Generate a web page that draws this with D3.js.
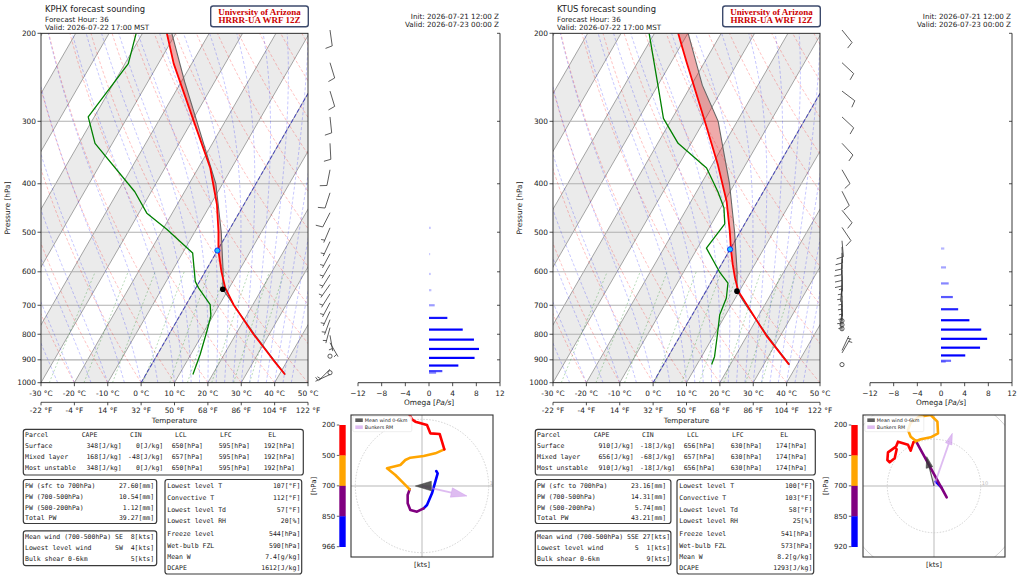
<!DOCTYPE html>
<html>
<head>
<meta charset="utf-8">
<script src="https://cdn.jsdelivr.net/npm/d3@7"></script>
<style>
body{margin:0;background:#fff}
svg{display:block}
text{font-family:"DejaVu Sans",sans-serif;fill:#222}
.mono{font-family:"DejaVu Sans Mono",monospace;white-space:pre}
</style>
</head>
<body>
<svg id="chart" width="1024" height="575"></svg>
<script>
// ---------- KPHX ----------
var phxTP = [963, 900, 800, 700, 646, 600, 544, 498, 440, 372, 298, 230, 200];
var phxT  = [41.7, 35.6, 25.3, 14.4, 8.8, 4.9, 0.3, -3.0, -8.1, -16.4, -29.8, -45.4, -52.7];
var phxTdP = [963, 878, 789, 736, 698, 646, 627, 550, 494, 458, 415, 332, 294, 230, 200];
var phxTd  = [14.1, 12.8, 10.8, 9.4, 7.2, 0.8, -1.3, -7.0, -18.7, -27.6, -34.9, -55.2, -61.8, -59.0, -61.9];
var phxParP = [963, 900, 800, 700, 650, 600, 500, 400, 300, 250, 200];
var phxParT = [41.8, 35.8, 25.6, 14.4, 8.3, 5.4, -2.0, -12.0, -28.5, -39.0, -51.2];
var phxLcl = [650, 8.3];
var phxFrz = 544;
var phxOmP = [490, 553, 606, 653, 700, 742, 783, 820, 856, 892, 924, 948, 955];
var phxOmW = [0.3, 0.2, 0.3, 0.4, 0.96, 3.1, 5.7, 7.6, 8.45, 7.7, 4.96, 2.25, 1.2];
var phxBarbP   = [197, 229, 261, 294, 332, 375, 417, 457, 490, 522, 552, 580, 608, 636, 664, 692, 720, 748, 776, 804, 832, 885, 940, 955, 963];
var phxBarbDir = [172, 163, 163, 174, 177, 191, 198, 207, 203, 205, 208, 210, 212, 215, 212, 208, 205, 200, 195, 170, 150, 0, 225, 0, 245];
var phxBarbSpd = [10, 10, 10, 10, 10, 10, 10, 10, 5, 5, 5, 5, 5, 5, 5, 5, 5, 5, 5, 5, 5, 0, 5, 0, 4];
var phxHodoU = [2.14, 2.35, 2.0, 1.5, 0.75, 0.25, -0.75, -1.75, -2.15, -2.15, -1.85, -3.0, -4.0, -5.25, -3.25, -2.5, -1.75, 0.25, 2.0, 3.35, 3.0, 2.65, 1.25, 0.75, -1.0, -1.5, -1.85, -2.3];
var phxHodoV = [2.25, 1.9, 0.65, -1.1, -2.85, -3.35, -3.85, -3.6, -2.6, -1.35, -0.5, 0.65, 1.65, 2.65, 3.15, 3.9, 4.25, 4.5, 4.9, 5.5, 6.65, 7.8, 7.9, 9.15, 9.65, 10.0, 10.65, 11.4];
var phxHodoLayer = [0,0,0,0,0,0, 1,1,1,1,1, 2,2,2,2,2,2,2,2,2, 3,3,3,3,3,3,3,3];
var phxMeanWind = [-1.0, 0.0];
var phxBunkers = [6.75, -1.5];
var phxCbLabels = ['200', '500', '700', '850', '966'];
var phxParcelRows = [
  ['Surface', '348[J/kg]', '0[J/kg]', '650[hPa]', '595[hPa]', '192[hPa]'],
  ['Mixed layer', '168[J/kg]', '-48[J/kg]', '657[hPa]', '595[hPa]', '192[hPa]'],
  ['Most unstable', '348[J/kg]', '0[J/kg]', '650[hPa]', '595[hPa]', '192[hPa]']];
var phxPwRows = [['PW (sfc to 700hPa)', '27.60[mm]'], ['PW (700-500hPa)', '10.54[mm]'], ['PW (500-200hPa)', '1.12[mm]'], ['Total PW', '39.27[mm]']];
var phxWindRows = [['Mean wind (700-500hPa)', 'SE', '8'], ['Lowest level wind', 'SW', '4'], ['Bulk shear 0-6km', '', '5']];
var phxParamRows = [['Lowest level T', '107[°F]'], ['Convective T', '112[°F]'], ['Lowest level Td', '57[°F]'], ['Lowest level RH', '20[%]'],
  ['Freeze level', '544[hPa]'], ['Wet-bulb FZL', '590[hPa]'], ['Mean W', '7.4[g/kg]'], ['DCAPE', '1612[J/kg]']];

// ---------- KTUS ----------
var tusTP = [920, 807, 731, 656, 617, 580, 539, 498, 434, 367, 300, 228, 200];
var tusT  = [37.6, 26.0, 18.2, 9.7, 6.4, 3.4, 0.1, -3.2, -9.3, -18.2, -29.7, -45.5, -52.9];
var tusTdP = [920, 887, 800, 731, 677, 632, 600, 538, 481, 447, 415, 372, 332, 296, 254, 200];
var tusTd  = [14.4, 13.9, 10.9, 8.2, 7.3, 5.2, 0.7, -7.3, -6.0, -9.0, -13.6, -21.1, -33.9, -42.6, -50.0, -61.6];
var tusParP = [920, 850, 800, 700, 656, 600, 500, 400, 300, 254, 200];
var tusParT = [37.8, 30.8, 25.6, 14.4, 9.3, 6.0, -1.6, -11.5, -25.7, -36.7, -49.9];
var tusLcl = [656, 9.3];
var tusFrz = 541;
var tusOmP = [539, 588, 633, 674, 713, 750, 783, 817, 851, 882, 904, 908];
var tusOmW = [0.56, 0.85, 1.3, 2.0, 2.9, 4.8, 6.8, 7.8, 6.6, 4.1, 1.7, 0.8];
var tusBarbP   = [197, 229, 261, 294, 332, 375, 414, 452, 489, 520, 535, 550, 565, 580, 595, 610, 625, 640, 655, 670, 685, 700, 715, 730, 752, 766, 780, 862, 872, 920];
var tusBarbDir = [141, 133, 127, 133, 137, 150, 153, 141, 146, 175, 178, 180, 182, 180, 180, 178, 182, 185, 180, 182, 178, 180, 185, 180, 0, 0, 0, 25, 30, 0];
var tusBarbSpd = [10, 10, 10, 10, 10, 10, 10, 10, 10, 10, 10, 10, 10, 10, 10, 5, 5, 5, 5, 5, 5, 5, 5, 5, 0, 0, 0, 5, 5, 0];
var tusHodoU = [0.36, 1.58, 2.72, -3.92, -4.99, -5.57, -4.99, -3.21, -0.71, 0.73, 0.86, -0.71, -2.85, -4.41, -4.99, -5.57, -7.71, -8.14, -9.85, -9.98, -9.49, -8.42, -7.99];
var tusHodoV = [0.93, -0.28, -2.42, 9.7, 10.56, 12.0, 13.56, 14.84, 15.2, 13.77, 11.28, 10.43, 10.0, 9.36, 7.56, 8.84, 9.49, 8.42, 7.21, 5.57, 5.07, 5.93, 7.86];
var tusHodoLayer = [0,0, 1,1, 2,2,2,2,2,2,2,2,2,2, 3,3,3,3,3,3,3,3,3];
var tusMeanWind = [-1.56, 6.28];
var tusBunkers = [3.93, 11.28];
var tusCbLabels = ['200', '500', '700', '850', '920'];
var tusParcelRows = [
  ['Surface', '910[J/kg]', '-18[J/kg]', '656[hPa]', '630[hPa]', '174[hPa]'],
  ['Mixed layer', '656[J/kg]', '-68[J/kg]', '657[hPa]', '630[hPa]', '174[hPa]'],
  ['Most unstable', '910[J/kg]', '-18[J/kg]', '656[hPa]', '630[hPa]', '174[hPa]']];
var tusPwRows = [['PW (sfc to 700hPa)', '23.16[mm]'], ['PW (700-500hPa)', '14.31[mm]'], ['PW (500-200hPa)', '5.74[mm]'], ['Total PW', '43.21[mm]']];
var tusWindRows = [['Mean wind (700-500hPa)', 'SSE', '27'], ['Lowest level wind', 'S', '1'], ['Bulk shear 0-6km', '', '9']];
var tusParamRows = [['Lowest level T', '100[°F]'], ['Convective T', '103[°F]'], ['Lowest level Td', '58[°F]'], ['Lowest level RH', '25[%]'],
  ['Freeze level', '541[hPa]'], ['Wet-bulb FZL', '573[hPa]'], ['Mean W', '8.2[g/kg]'], ['DCAPE', '1293[J/kg]']];

// ---------- shared ----------
var parcelHeader = ['Parcel', 'CAPE', 'CIN', 'LCL', 'LFC', 'EL'];
var pressTicks = [200, 300, 400, 500, 600, 700, 800, 900, 1000];
var tempTicks = [-30, -20, -10, 0, 10, 20, 30, 40, 50];
var omegaTicks = [-12, -8, -4, 0, 4, 8, 12];
var mixRatios = [0.0004, 0.001, 0.002, 0.004, 0.007, 0.01, 0.016, 0.024, 0.032];
var layerColors = ['#0000ff', '#800080', '#ffa500', '#ff0000'];

var svg = d3.select('#chart');

var SK = {x0: 41, x1: 308, y0: 33.3, y1: 382.7};
var xT = d3.scaleLinear().domain([-30, 50]).range([SK.x0, SK.x1]);
var yP = d3.scaleLog().domain([1000, 200]).range([SK.y1, SK.y0]);
var skew = 0.577;
function sx(T, p) { return xT(T) + skew * (SK.y1 - yP(p)); }

var xOm = d3.scaleLinear().domain([-12, 12]).range([358, 500]);

function interpP(ps, vs, p) {
	for (var i = 0; i < ps.length - 1; i++) {
		if (p <= ps[i] && p >= ps[i + 1]) {
			var f = (Math.log(ps[i]) - Math.log(p)) / (Math.log(ps[i]) - Math.log(ps[i + 1]));
			return vs[i] + f * (vs[i + 1] - vs[i]);
		}
	}
	return p > ps[0] ? vs[0] : vs[vs.length - 1];
}

// moist adiabat, pseudo-adiabatic lapse rate
function moistAdiabat(t0, plist) {
	var Rd = 287.04, Cp = 1005.7, Lv = 2.501e6, eps = 0.622;
	function dTdp(p, T) {
		var es = 6.112 * Math.exp(17.67 * (T - 273.15) / (T - 29.65));
		var rs = eps * es / (p - es);
		return (Rd * T + Lv * rs) / (Cp + (Lv * Lv * rs * eps) / (Rd * T * T)) / p;
	}
	var T = t0 + 273.15, out = [[plist[0], t0]];
	for (var i = 1; i < plist.length; i++) {
		var p = plist[i - 1], h = plist[i] - p;
		var k1 = dTdp(p, T), k2 = dTdp(p + h / 2, T + h / 2 * k1), k3 = dTdp(p + h / 2, T + h / 2 * k2), k4 = dTdp(p + h, T + h * k3);
		T = T + h / 6 * (k1 + 2 * k2 + 2 * k3 + k4);
		out.push([plist[i], T - 273.15]);
	}
	return out;
}

var profLine = d3.line().x(function (d) { return sx(d[1], d[0]); }).y(function (d) { return yP(d[0]); });

function drawSkew(ox, d) {
	var g = svg.append('g').attr('transform', 'translate(' + ox + ',0)');
	var cid = 'clipSkew' + ox;
	g.append('clipPath').attr('id', cid).append('rect')
		.attr('x', SK.x0).attr('y', SK.y0).attr('width', SK.x1 - SK.x0).attr('height', SK.y1 - SK.y0);
	var pg = g.append('g').attr('clip-path', 'url(#' + cid + ')');

	pg.selectAll('.band').data(d3.range(-100, 50, 20)).enter()
		.append('path')
		.attr('class', 'band')
		.attr('d', function (T) {
			return 'M' + sx(T, 1000) + ',' + SK.y1 + 'L' + sx(T, 200) + ',' + SK.y0 +
				'L' + sx(T + 10, 200) + ',' + SK.y0 + 'L' + sx(T + 10, 1000) + ',' + SK.y1 + 'Z';
		})
		.attr('fill', '#ebebeb');

	pg.selectAll('.iso').data(d3.range(-100, 60, 10)).enter()
		.append('line')
		.attr('class', 'iso')
		.attr('x1', function (T) { return sx(T, 1000); }).attr('y1', SK.y1)
		.attr('x2', function (T) { return sx(T, 200); }).attr('y2', SK.y0)
		.attr('stroke', '#9a9a9a').attr('stroke-width', 0.9);

	pg.selectAll('.pgrid').data(pressTicks).enter()
		.append('line')
		.attr('class', 'pgrid')
		.attr('x1', SK.x0).attr('x2', SK.x1)
		.attr('y1', function (p) { return yP(p); }).attr('y2', function (p) { return yP(p); })
		.attr('stroke', '#b0b0b0').attr('stroke-width', 1.1);

	var pl = d3.range(1000, 195, -5);
	pg.selectAll('.dry').data(d3.range(-30, 160, 10)).enter()
		.append('path')
		.attr('class', 'dry')
		.attr('d', function (th) {
			return profLine(pl.map(function (p) { return [p, (th + 273.15) * Math.pow(p / 1000, 0.2857) - 273.15]; }));
		})
		.attr('fill', 'none').attr('stroke', '#ff0000').attr('stroke-opacity', 0.3)
		.attr('stroke-width', 0.8).attr('stroke-dasharray', '3,2');

	var moistT0 = d3.range(-50, 10.1, 5).concat(d3.range(12.5, 45.1, 2.5));
	pg.selectAll('.moist').data(moistT0).enter()
		.append('path')
		.attr('class', 'moist')
		.attr('d', function (t0) { return profLine(moistAdiabat(t0, pl)); })
		.attr('fill', 'none').attr('stroke', '#0000ff').attr('stroke-opacity', 0.28)
		.attr('stroke-width', 0.8).attr('stroke-dasharray', '3,2');

	var pm = d3.range(1000, 595, -10);
	pg.selectAll('.mix').data(mixRatios).enter()
		.append('path')
		.attr('class', 'mix')
		.attr('d', function (w) {
			return profLine(pm.map(function (p) {
				var e = p * w / (0.622 + w), l = Math.log(e / 6.112);
				return [p, 243.5 * l / (17.67 - l)];
			}));
		})
		.attr('fill', 'none').attr('stroke', '#008000').attr('stroke-opacity', 0.35)
		.attr('stroke-width', 0.8).attr('stroke-dasharray', '2,2');

	pg.append('line')
		.attr('x1', sx(0, 1000)).attr('y1', SK.y1).attr('x2', sx(0, 200)).attr('y2', SK.y0)
		.attr('stroke', '#3030c0').attr('stroke-opacity', 0.75).attr('stroke-width', 1.1).attr('stroke-dasharray', '4,2');

	// CAPE / CIN shading between parcel and environment
	var grid = d3.range(d.parP[0], 199, -2).map(function (p) {
		return [p, interpP(d.tP, d.t, p), interpP(d.parP, d.parT, p)];
	});
	pg.append('path')
		.attr('d', d3.area()
			.y(function (r) { return yP(r[0]); })
			.x0(function (r) { return sx(r[1], r[0]); })
			.x1(function (r) { return sx(Math.max(r[1], r[2]), r[0]); })(grid))
		.attr('fill', '#d62020').attr('fill-opacity', 0.38);
	pg.append('path')
		.attr('d', d3.area()
			.y(function (r) { return yP(r[0]); })
			.x0(function (r) { return sx(Math.min(r[1], r[2]), r[0]); })
			.x1(function (r) { return sx(r[1], r[0]); })(grid))
		.attr('fill', '#6080c0').attr('fill-opacity', 0.35);

	pg.append('path')
		.attr('d', profLine(d.parP.map(function (p, i) { return [p, d.parT[i]]; })))
		.attr('fill', 'none').attr('stroke', '#666').attr('stroke-width', 1.1);
	pg.append('path')
		.attr('d', profLine(d.tP.map(function (p, i) { return [p, d.t[i]]; })))
		.attr('fill', 'none').attr('stroke', '#ff0000').attr('stroke-width', 1.8).attr('stroke-linejoin', 'round');
	pg.append('path')
		.attr('d', profLine(d.tdP.map(function (p, i) { return [p, d.td[i]]; })))
		.attr('fill', 'none').attr('stroke', '#008000').attr('stroke-width', 1.3).attr('stroke-linejoin', 'round');

	g.append('circle').attr('cx', sx(d.lcl[1], d.lcl[0])).attr('cy', yP(d.lcl[0])).attr('r', 2.8).attr('fill', '#000');
	g.append('circle').attr('cx', sx(0, d.frz)).attr('cy', yP(d.frz)).attr('r', 2.6)
		.attr('fill', '#20c8ff').attr('stroke', '#1030ff').attr('stroke-width', 1);

	g.append('rect').attr('x', SK.x0).attr('y', SK.y0).attr('width', SK.x1 - SK.x0).attr('height', SK.y1 - SK.y0)
		.attr('fill', 'none').attr('stroke', '#222').attr('stroke-width', 0.9);

	// pressure axis
	g.selectAll('.pt').data(pressTicks).enter()
		.append('line').attr('class', 'pt')
		.attr('x1', SK.x0 - 3.5).attr('x2', SK.x0)
		.attr('y1', function (p) { return yP(p); }).attr('y2', function (p) { return yP(p); })
		.attr('stroke', '#222').attr('stroke-width', 0.8);
	g.selectAll('.ptl').data(pressTicks).enter()
		.append('text').attr('class', 'ptl')
		.attr('x', SK.x0 - 5).attr('y', function (p) { return yP(p); })
		.attr('dy', '0.35em').attr('text-anchor', 'end').attr('font-size', '7.4px')
		.text(function (p) { return p; });
	g.append('text')
		.attr('transform', 'translate(9.5,' + ((SK.y0 + SK.y1) / 2) + ') rotate(-90)')
		.attr('text-anchor', 'middle').attr('font-size', '7.4px').text('Pressure [hPa]');

	// temperature axes (°C and °F)
	var fy = 402.3;
	g.selectAll('.tt').data(tempTicks).enter()
		.append('line').attr('class', 'tt')
		.attr('x1', function (t) { return xT(t); }).attr('x2', function (t) { return xT(t); })
		.attr('y1', SK.y1).attr('y2', SK.y1 + 3.5)
		.attr('stroke', '#222').attr('stroke-width', 0.8);
	g.selectAll('.ttl').data(tempTicks).enter()
		.append('text').attr('class', 'ttl')
		.attr('x', function (t) { return xT(t); }).attr('y', SK.y1 + 13.2)
		.attr('text-anchor', 'middle').attr('font-size', '7.4px')
		.text(function (t) { return t + ' °C'; });
	g.append('line').attr('x1', SK.x0).attr('x2', SK.x1).attr('y1', fy).attr('y2', fy)
		.attr('stroke', '#222').attr('stroke-width', 0.8);
	g.selectAll('.ft').data(tempTicks).enter()
		.append('line').attr('class', 'ft')
		.attr('x1', function (t) { return xT(t); }).attr('x2', function (t) { return xT(t); })
		.attr('y1', fy).attr('y2', fy + 3)
		.attr('stroke', '#222').attr('stroke-width', 0.8);
	g.selectAll('.ftl').data(tempTicks).enter()
		.append('text').attr('class', 'ftl')
		.attr('x', function (t) { return xT(t); }).attr('y', fy + 10.6)
		.attr('text-anchor', 'middle').attr('font-size', '7.4px')
		.text(function (t) { return Math.round(t * 9 / 5 + 32) + ' °F'; });
	g.append('text').attr('x', (SK.x0 + SK.x1) / 2).attr('y', 423.2)
		.attr('text-anchor', 'middle').attr('font-size', '7.2px').text('Temperature');
}

function drawOmega(ox, d) {
	var g = svg.append('g').attr('transform', 'translate(' + ox + ',0)');
	g.selectAll('.om').data(d.omP).enter()
		.append('rect').attr('class', 'om')
		.attr('x', function (p, i) { return Math.min(xOm(0), xOm(d.omW[i])); })
		.attr('y', function (p) { return yP(p) - 1.1; })
		.attr('width', function (p, i) { return Math.abs(xOm(d.omW[i]) - xOm(0)); })
		.attr('height', 2.2)
		.attr('fill', '#0000ff')
		.attr('fill-opacity', function (p, i) { return Math.min(1, 0.15 + Math.abs(d.omW[i]) / 4); });
	g.append('line').attr('x1', xOm(-12)).attr('x2', xOm(12)).attr('y1', SK.y1).attr('y2', SK.y1)
		.attr('stroke', '#222').attr('stroke-width', 0.9);
	g.append('line').attr('x1', xOm(12)).attr('x2', xOm(12)).attr('y1', SK.y0).attr('y2', SK.y1)
		.attr('stroke', '#222').attr('stroke-width', 0.9);
	g.selectAll('.omt').data(omegaTicks).enter()
		.append('line').attr('class', 'omt')
		.attr('x1', function (t) { return xOm(t); }).attr('x2', function (t) { return xOm(t); })
		.attr('y1', SK.y1).attr('y2', SK.y1 + 3.5)
		.attr('stroke', '#222').attr('stroke-width', 0.8);
	g.selectAll('.omtl').data(omegaTicks).enter()
		.append('text').attr('class', 'omtl')
		.attr('x', function (t) { return xOm(t); }).attr('y', SK.y1 + 13.2)
		.attr('text-anchor', 'middle').attr('font-size', '7.4px')
		.text(function (t) { return t < 0 ? '\u2212' + (-t) : t; });
	g.selectAll('.omp').data(pressTicks.slice(0, 8)).enter()
		.append('line').attr('class', 'omp')
		.attr('x1', xOm(12) - 3).attr('x2', xOm(12))
		.attr('y1', function (p) { return yP(p); }).attr('y2', function (p) { return yP(p); })
		.attr('stroke', '#222').attr('stroke-width', 0.8);
	var lab = g.append('text').attr('x', xOm(0)).attr('y', 405).attr('text-anchor', 'middle').attr('font-size', '7.4px');
	lab.append('tspan').text('Omega [');
	lab.append('tspan').attr('font-style', 'italic').text('Pa/s');
	lab.append('tspan').text(']');
}

function drawBarbs(ox, d) {
	var g = svg.append('g').attr('transform', 'translate(' + ox + ',0)');
	var x = 330, L = 16, full = 7, half = 3.6, sp = 2.6;
	d.barbP.forEach(function (p, i) {
		var y = yP(p), spd = d.barbSpd[i];
		if (spd < 2.5) {
			g.append('circle').attr('cx', x).attr('cy', y).attr('r', 2.1)
				.attr('fill', 'none').attr('stroke', '#333').attr('stroke-width', 0.8);
			return;
		}
		var r = d.barbDir[i] * Math.PI / 180;
		var ux = Math.sin(r), uy = -Math.cos(r), fx = Math.cos(r), fy = Math.sin(r);
		var tx = x + L * ux, ty = y + L * uy;
		var path = 'M' + x + ',' + y + 'L' + tx + ',' + ty;
		var s = Math.round(spd / 5) * 5, n10 = Math.floor(s / 10), n5 = s % 10 >= 5 ? 1 : 0;
		var pos = 0;
		for (var k = 0; k < n10; k++) {
			var px = tx - pos * ux, py = ty - pos * uy;
			path += 'M' + px + ',' + py + 'L' + (px + full * fx + 1.6 * ux) + ',' + (py + full * fy + 1.6 * uy);
			pos += sp;
		}
		if (n5) {
			if (n10 === 0) pos += sp;
			var hx = tx - pos * ux, hy = ty - pos * uy;
			path += 'M' + hx + ',' + hy + 'L' + (hx + half * fx + 0.8 * ux) + ',' + (hy + half * fy + 0.8 * uy);
		}
		g.append('path').attr('d', path).attr('fill', 'none').attr('stroke', '#333').attr('stroke-width', 0.8);
	});
}

function drawHodo(ox, d) {
	var g = svg.append('g').attr('transform', 'translate(' + ox + ',0)');
	var b = {x0: 351, y0: 415, x1: 493, y1: 557};
	var hx = d3.scaleLinear().domain([-d.hodoMax, d.hodoMax]).range([b.x0, b.x1]);
	var hy = d3.scaleLinear().domain([-d.hodoMax, d.hodoMax]).range([b.y1, b.y0]);
	var cid = 'clipHodo' + ox;
	g.append('clipPath').attr('id', cid).append('rect')
		.attr('x', b.x0).attr('y', b.y0).attr('width', b.x1 - b.x0).attr('height', b.y1 - b.y0);
	var pg = g.append('g').attr('clip-path', 'url(#' + cid + ')');
	pg.append('line').attr('x1', b.x0).attr('x2', b.x1).attr('y1', hy(0)).attr('y2', hy(0))
		.attr('stroke', '#cfcfcf').attr('stroke-width', 1.4);
	pg.append('line').attr('x1', hx(0)).attr('x2', hx(0)).attr('y1', b.y0).attr('y2', b.y1)
		.attr('stroke', '#cfcfcf').attr('stroke-width', 1.4);
	pg.selectAll('.ring').data([10, 20, 30]).enter()
		.append('circle').attr('class', 'ring')
		.attr('cx', hx(0)).attr('cy', hy(0))
		.attr('r', function (k) { return hx(k) - hx(0); })
		.attr('fill', 'none').attr('stroke', '#c8c8c8').attr('stroke-width', 0.8)
		.attr('stroke-dasharray', function (k) { return k === 10 ? '1.5,1.5' : null; });
	pg.append('text').attr('x', hx(10) + 1).attr('y', hy(0) - 1).attr('font-size', '5px')
		.style('fill', '#bbb').text('10');

	var pts = d.hodoU.map(function (u, i) { return [hx(u), hy(d.hodoV[i])]; });
	[0, 1, 2, 3].forEach(function (L) {
		var seg = [];
		for (var i = 1; i < pts.length; i++) {
			if (d.hodoLayer[i] === L) {
				if (seg.length === 0) seg.push(pts[i - 1]);
				seg.push(pts[i]);
			}
		}
		if (L === 0) seg.unshift(pts[0]);
		pg.append('path').attr('d', d3.line()(seg))
			.attr('fill', 'none').attr('stroke', layerColors[L]).attr('stroke-width', 2.6)
			.attr('stroke-linejoin', 'round').attr('stroke-linecap', 'round');
	});

	function arrow(tip, col, op, lw) {
		var len = Math.sqrt(tip[0] * tip[0] + tip[1] * tip[1]), ux = tip[0] / len, uy = tip[1] / len;
		var hl = 2.4, hw = 0.72;
		var bx = tip[0] - hl * ux, by = tip[1] - hl * uy;
		if (len > hl) {
			pg.append('line').attr('x1', hx(0)).attr('y1', hy(0)).attr('x2', hx(bx)).attr('y2', hy(by))
				.attr('stroke', col).attr('stroke-opacity', op).attr('stroke-width', lw);
		}
		pg.append('path')
			.attr('d', d3.line()([[hx(tip[0]), hy(tip[1])], [hx(bx - hw * uy), hy(by + hw * ux)], [hx(bx + hw * uy), hy(by - hw * ux)]]) + 'Z')
			.attr('fill', col).attr('fill-opacity', op).attr('stroke', col).attr('stroke-opacity', op).attr('stroke-width', 0.6);
	}
	arrow(d.bunkers, '#c890e8', 0.6, 1.8);
	arrow(d.meanWind, '#333', 0.8, 1.2);

	g.append('rect').attr('x', b.x0).attr('y', b.y0).attr('width', b.x1 - b.x0).attr('height', b.y1 - b.y0)
		.attr('fill', 'none').attr('stroke', '#333').attr('stroke-width', 1.1);

	// legend
	var lg = g.append('g').attr('transform', 'translate(' + (b.x0 + 1.8) + ',' + (b.y0 + 1.2) + ')');
	lg.append('rect').attr('width', 59).attr('height', 15.5).attr('rx', 1.5)
		.attr('fill', '#fff').attr('fill-opacity', 0.85).attr('stroke', '#ddd').attr('stroke-width', 0.5);
	lg.append('rect').attr('x', 2.5).attr('y', 2.2).attr('width', 7.5).attr('height', 3.6).attr('fill', '#333').attr('fill-opacity', 0.8);
	lg.append('rect').attr('x', 2.5).attr('y', 9.2).attr('width', 7.5).attr('height', 3.6).attr('fill', '#c890e8').attr('fill-opacity', 0.6);
	lg.append('text').attr('x', 12).attr('y', 4).attr('dy', '0.35em').attr('font-size', '4.8px').text('Mean wind 0-6km');
	lg.append('text').attr('x', 12).attr('y', 11).attr('dy', '0.35em').attr('font-size', '4.8px').text('Bunkers RM');

	// colorbar
	var cb = {x: 339.3, y: 425, w: 6.4, h: 121.7};
	var segH = cb.h / 4;
	[3, 2, 1, 0].forEach(function (L, k) {
		g.append('rect').attr('x', cb.x).attr('y', cb.y + k * segH).attr('width', cb.w).attr('height', segH + 0.3)
			.attr('fill', layerColors[L]);
	});
	g.selectAll('.cbl').data(d.cbLabels).enter()
		.append('text').attr('class', 'cbl')
		.attr('x', cb.x - 4).attr('y', function (t, i) { return cb.y + i * segH; })
		.attr('dy', '0.35em').attr('text-anchor', 'end').attr('font-size', '7px')
		.text(function (t) { return t; });
	g.selectAll('.cbt').data(d.cbLabels).enter()
		.append('line').attr('class', 'cbt')
		.attr('x1', cb.x - 2.5).attr('x2', cb.x)
		.attr('y1', function (t, i) { return cb.y + i * segH; }).attr('y2', function (t, i) { return cb.y + i * segH; })
		.attr('stroke', '#222').attr('stroke-width', 0.7);
	g.append('text').attr('transform', 'translate(316,' + (cb.y + cb.h / 2) + ') rotate(-90)')
		.attr('text-anchor', 'middle').attr('font-size', '7px').text('[hPa]');
	g.append('text').attr('x', hx(0)).attr('y', 567).attr('text-anchor', 'middle').attr('font-size', '7px').text('[kts]');
}

function box(g, x, y, w, h) {
	g.append('rect').attr('x', x).attr('y', y).attr('width', w).attr('height', h).attr('rx', 2.5)
		.attr('fill', '#fff').attr('stroke', '#3a3a3a').attr('stroke-width', 1.2);
}
function monoText(g, x, y, s, anchor) {
	g.append('text').attr('class', 'mono').attr('xml:space', 'preserve')
		.attr('x', x).attr('y', y).attr('dy', '0.35em').attr('font-size', '6.5px')
		.attr('text-anchor', anchor || 'start').text(s);
}

function drawTables(ox, d) {
	var g = svg.append('g').attr('transform', 'translate(' + ox + ',0)');
	box(g, 23.3, 429.3, 280, 45.7);
	var hx = [25, 81.7, 130, 175, 220, 268.3], vx = [121.7, 163.3, 203, 250, 295];
	var ry = [434.8, 445.6, 456.7, 467.8];
	parcelHeader.forEach(function (t, i) { monoText(g, hx[i], ry[0], t); });
	d.parcelRows.forEach(function (row, j) {
		monoText(g, 25, ry[j + 1], row[0]);
		row.slice(1).forEach(function (v, i) { monoText(g, vx[i], ry[j + 1], v, 'end'); });
	});

	var bw = d.wideBox ? 135.6 : 133.4;
	box(g, 23.3, 479.5, bw, 44);
	var py = [485.3, 496.3, 507.3, 518.2];
	d.pwRows.forEach(function (row, j) { monoText(g, 25, py[j], row[0].padEnd(18) + row[1].padStart(15)); });

	box(g, 23.3, 530.8, bw, 34.8);
	var wy = [536.6, 547.8, 559.0];
	var dw = d3.max(d.windRows, function (r) { return r[1].length; });
	d.windRows.forEach(function (row, j) {
		monoText(g, 25, wy[j], row[0].padEnd(22) + ' ' + row[1].padStart(dw) + ' ' + row[2].padStart(2) + '[kts]');
	});

	box(g, 165, 479.5, 136.7, 94.5);
	var qy = [485.7, 497.6, 509.4, 521.2, 533.3, 545.3, 556.9, 568.2];
	d.paramRows.forEach(function (row, j) { monoText(g, 167.3, qy[j], row[0].padEnd(15) + row[1].padStart(19)); });
}

function drawHeader(ox, station) {
	var g = svg.append('g').attr('transform', 'translate(' + ox + ',0)');
	g.append('text').attr('x', 45).attr('y', 12.4).attr('font-size', '8.4px').text(station + ' forecast sounding');
	g.append('text').attr('x', 45).attr('y', 21.9).attr('font-size', '7.2px').text('Forecast Hour: 36');
	g.append('text').attr('x', 45).attr('y', 29.8).attr('font-size', '7.2px').text('Valid: 2026-07-22 17:00 MST');
	g.append('rect').attr('x', 210.7).attr('y', 6).attr('width', 97.6).attr('height', 20.7).attr('rx', 2.5)
		.attr('fill', '#fff').attr('stroke', '#3c4a6c').attr('stroke-width', 1.4);
	g.append('text').attr('x', 259.5).attr('y', 14.8).attr('text-anchor', 'middle')
		.attr('font-size', '9px').attr('font-weight', 'bold').style('font-family', '"Liberation Serif",serif').style('fill', '#cc0000')
		.text('University of Arizona');
	g.append('text').attr('x', 259.5).attr('y', 23.2).attr('text-anchor', 'middle')
		.attr('font-size', '9px').attr('font-weight', 'bold').style('font-family', '"Liberation Serif",serif').style('fill', '#cc0000')
		.text('HRRR-UA WRF 12Z');
	g.append('text').attr('x', 499).attr('y', 18.6).attr('text-anchor', 'end').attr('font-size', '7.2px').text('Init: 2026-07-21 12:00 Z');
	g.append('text').attr('x', 499).attr('y', 26.6).attr('text-anchor', 'end').attr('font-size', '7.2px').text('Valid: 2026-07-23 00:00 Z');
}

var panels = [
	{ox: 0, station: 'KPHX', tP: phxTP, t: phxT, tdP: phxTdP, td: phxTd, parP: phxParP, parT: phxParT, lcl: phxLcl, frz: phxFrz,
		omP: phxOmP, omW: phxOmW, barbP: phxBarbP, barbDir: phxBarbDir, barbSpd: phxBarbSpd,
		hodoU: phxHodoU, hodoV: phxHodoV, hodoLayer: phxHodoLayer, hodoMax: 10.65, meanWind: phxMeanWind, bunkers: phxBunkers,
		cbLabels: phxCbLabels, parcelRows: phxParcelRows, pwRows: phxPwRows, windRows: phxWindRows, paramRows: phxParamRows, wideBox: false},
	{ox: 512, station: 'KTUS', tP: tusTP, t: tusT, tdP: tusTdP, td: tusTd, parP: tusParP, parT: tusParT, lcl: tusLcl, frz: tusFrz,
		omP: tusOmP, omW: tusOmW, barbP: tusBarbP, barbDir: tusBarbDir, barbSpd: tusBarbSpd,
		hodoU: tusHodoU, hodoV: tusHodoV, hodoLayer: tusHodoLayer, hodoMax: 15.2, meanWind: tusMeanWind, bunkers: tusBunkers,
		cbLabels: tusCbLabels, parcelRows: tusParcelRows, pwRows: tusPwRows, windRows: tusWindRows, paramRows: tusParamRows, wideBox: true}
];

panels.forEach(function (d) {
	drawHeader(d.ox, d.station);
	drawSkew(d.ox, d);
	drawOmega(d.ox, d);
	drawBarbs(d.ox, d);
	drawHodo(d.ox, d);
	drawTables(d.ox, d);
});
</script>
</body>
</html>
